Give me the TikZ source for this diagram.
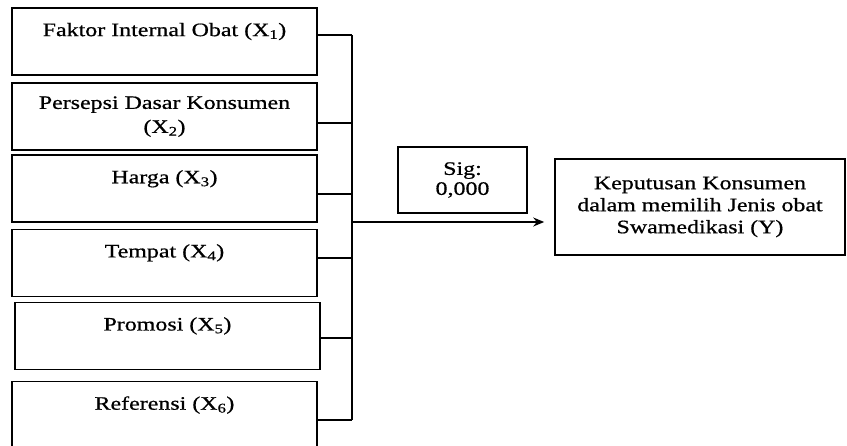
\documentclass[tikz,border=0pt]{standalone}
\usepackage{fontspec}
\setmainfont{Liberation Serif}[FakeStretch=1.26, FakeBold=0.7]
\usetikzlibrary{positioning, calc, arrows.meta}
\tikzstyle{xbox}=[rectangle, draw, line width=1.6pt, minimum width=305pt,
                          % The rest
                          minimum height=67pt, align=center, font=\fontsize{19}{24}\selectfont]
\tikzstyle{sigbox}=[rectangle, draw, line width=1.6pt, minimum width=129pt,
                          minimum height=66pt, align=center, font=\fontsize{19}{20}\selectfont]
\tikzstyle{ybox}=[rectangle, draw, line width=1.6pt, minimum width=290pt,
                          minimum height=96pt, align=center, font=\fontsize{19}{22}\selectfont]
\tikzstyle{link}=[line width=1.3pt]

\begin{document}
\begin{tikzpicture}[x=1pt, y=1pt]
  \useasboundingbox (0,0) rectangle (847,-445);
  % Place factor boxes in a column on the left
  \node[xbox] (x1) at (164.5,-41.5) {Faktor Internal Obat (X\textsubscript{1})\\\mbox{}};
  \node[xbox, below = 6.5pt of x1] (x2) {Persepsi Dasar Konsumen\\(X\textsubscript{2})};
  \node[xbox, below = 3.5pt of x2] (x3) {Harga (X\textsubscript{3})\\\mbox{}};
  \node[xbox, below = 5.5pt of x3] (x4) {Tempat (X\textsubscript{4})\\\mbox{}};
  \node[xbox, below = 4.5pt of x4, xshift=3pt] (x5) {Promosi (X\textsubscript{5})\\\mbox{}};
  \node[xbox, below = 10.5pt of x5, xshift=-3pt] (x6) {Referensi (X\textsubscript{6})\\\mbox{}};

  % Significance box and the outcome box
  \node[sigbox] (sig) at (462.5,-180) {Sig:\\0,000};
  \node[ybox] (yb) at (700,-207) {Keputusan Konsumen\\dalam memilih Jenis obat\\Swamedikasi (Y)};

  % Points on the joining line
  \coordinate (t1) at (352,-35);
  \coordinate (t2) at (352,-123);
  \coordinate (t3) at (352,-194);
  \coordinate (t4) at (352,-258);
  \coordinate (t5) at (352,-338);
  \coordinate (t6) at (352,-420);
  \coordinate (tout) at (352,-222);

\draw[link] (t1) -- (t6);
\draw[link] (x1.east |- t1) -- (t1);
\draw[link] (x2.east |- t2) -- (t2);
\draw[link] (x3.east |- t3) -- (t3);
\draw[link] (x4.east |- t4) -- (t4);
\draw[link] (x5.east |- t5) -- (t5);
\draw[link] (x6.east |- t6) -- (t6);
\draw[link, -{Stealth[length=11pt, width=9pt]}, shorten >=10pt] (tout) -- (tout -| yb.west);
\end{tikzpicture}
\end{document}
